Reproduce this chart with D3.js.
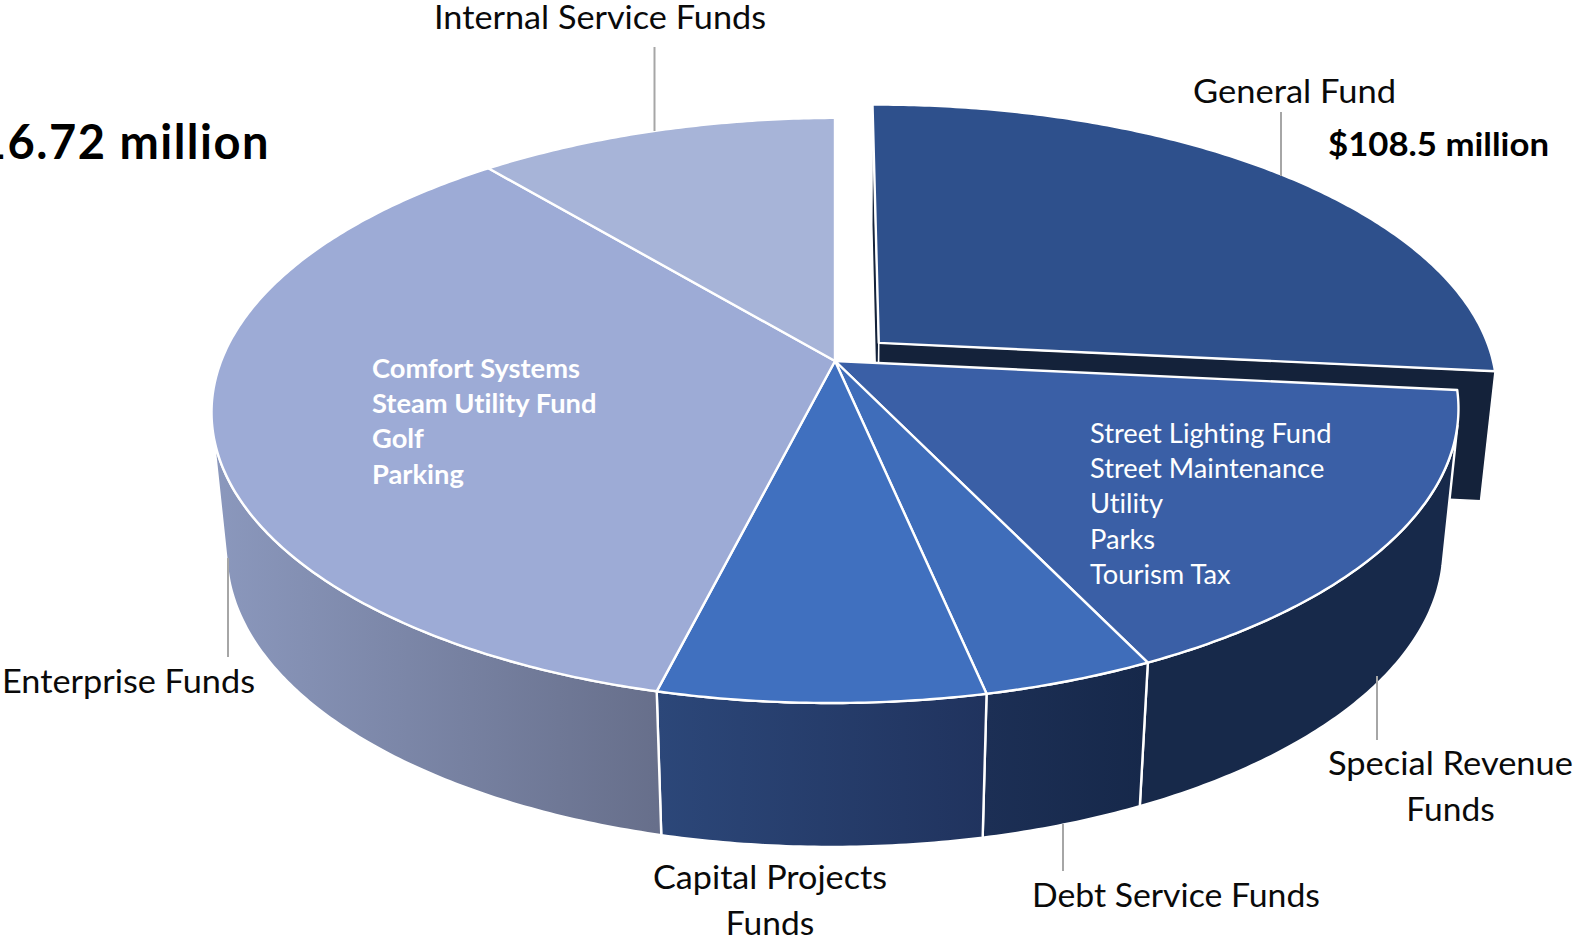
<!DOCTYPE html>
<html><head><meta charset="utf-8">
<style>html,body{margin:0;padding:0;background:#fff;overflow:hidden}svg{display:block}text{font-family:Lato,"Noto Sans",sans-serif;font-variant-ligatures:none}</style>
<script src="https://cdn.jsdelivr.net/npm/d3@7"></script>
</head><body><div id="chart"></div>
<script>
// ---- data ----
const categories = ["General Fund","Special Revenue Funds","Debt Service Funds","Capital Projects Funds","Enterprise Funds","Internal Service Funds"];
const shares = [26.7, 16.2, 3.8, 7.2, 35.1, 11.0];
const exploded = ["General Fund"];
const totalLabel = "$416.72 million";
const generalFundLabel = "$108.5 million";
const enterpriseList = ["Comfort Systems","Steam Utility Fund","Golf","Parking"];
const specialRevenueList = ["Street Lighting Fund","Street Maintenance","Utility","Parks","Tourism Tax"];

// ---- styling ----
const topColors = {"General Fund":"#2e508c","Special Revenue Funds":"#3a5fa6","Debt Service Funds":"#3f6dba","Capital Projects Funds":"#4070bf","Enterprise Funds":"#9dabd6","Internal Service Funds":"#a7b4d8"};
const wallStops = {"Special Revenue Funds":["#17294a","#17294a"],"Debt Service Funds":["#1c2f55","#16284a"],"Capital Projects Funds":["#2c4779","#20335e"],"Enterprise Funds":["#8b98bd","#676f8b"]};
const W=1575,H=938, cx=835, cy=361, A=284.2, B=0.169, C=614.5, SHEAR=0.003;
const VPY=6270, T0=0.0235, TK=0.1, EXU=0.072, EXV=-0.064, EXDEPTH=0.93;
const TAN_R=103*Math.PI/180, TAN_L=257*Math.PI/180;

const svg=d3.select("#chart").append("svg").attr("width",W).attr("height",H);
const defs=svg.append("defs");
const xScale=d3.scaleLinear().domain([-1,1]).range([cx-C,cx+C]);

function topPt(u,v){const w=1-B*v;const dx=(xScale(u)-cx)/w;return [cx+dx, cy+A*v/w-SHEAR*dx];}
function botPt(u,v,k=1){const p=topPt(u,v);const t=k*T0*(1+TK*v);return [p[0]+t*(cx-p[0]),p[1]+t*(VPY-p[1])];}
const rimUV=(th,o)=>[Math.sin(th)+o[0],-Math.cos(th)+o[1]];
const line=d3.line();
const sample=(a,b)=>{const n=Math.max(2,Math.ceil(Math.abs(b-a)/0.01));return d3.range(n+1).map(i=>a+(b-a)*i/n);};

const arcs=d3.pie().sort(null).value(d=>d.v).startAngle(0).endAngle(2*Math.PI)(categories.map((n,i)=>({n,v:shares[i]})));

categories.forEach(n=>{ if(!wallStops[n])return;
  const g=defs.append("linearGradient").attr("id","w"+categories.indexOf(n)).attr("gradientUnits","userSpaceOnUse");
  const a=arcs[categories.indexOf(n)];
  const pa=topPt(...rimUV(Math.max(a.startAngle,TAN_R),[0,0])), pb=topPt(...rimUV(Math.min(a.endAngle,TAN_L),[0,0]));
  g.attr("x1",Math.max(pa[0],pb[0])).attr("x2",Math.min(pa[0],pb[0])).attr("y1",0).attr("y2",0);
  g.append("stop").attr("offset",0).attr("stop-color",wallStops[n][1]);
  g.append("stop").attr("offset",1).attr("stop-color",wallStops[n][0]);
});

const WS="#ffffff", SW=2.4;
// exploded slice: its cut faces, then its top
arcs.filter(a=>exploded.includes(a.data.n)).forEach(a=>{
  const o=[EXU,EXV];
  const ap=topPt(o[0],o[1]), apB=botPt(o[0],o[1],EXDEPTH);
  [a.startAngle,a.endAngle].forEach(th=>{
    const uv=rimUV(th,o);
    svg.append("path").attr("d",line([ap,topPt(...uv),botPt(...uv,EXDEPTH),apB])+"Z").attr("fill","#14223a").attr("stroke",WS).attr("stroke-width",1.5).attr("stroke-linejoin","round");
  });
  const pts=[ap,...sample(a.startAngle,a.endAngle).map(th=>topPt(...rimUV(th,o)))];
  svg.append("path").attr("d",line(pts)+"Z").attr("fill",topColors[a.data.n]).attr("stroke",WS).attr("stroke-width",SW).attr("stroke-linejoin","round");
});
// outer walls of the slices in place
arcs.filter(a=>!exploded.includes(a.data.n)).forEach(a=>{
  const s=Math.max(a.startAngle,TAN_R), e=Math.min(a.endAngle,TAN_L);
  if(!(e>s)||!wallStops[a.data.n])return;
  const th=sample(s,e), o=[0,0];
  const pts=[...th.map(t=>topPt(...rimUV(t,o))),...th.slice().reverse().map(t=>botPt(...rimUV(t,o)))];
  svg.append("path").attr("d",line(pts)+"Z").attr("fill","url(#w"+categories.indexOf(a.data.n)+")").attr("stroke",WS).attr("stroke-width",SW).attr("stroke-linejoin","round");
});
// tops of the slices in place
arcs.filter(a=>!exploded.includes(a.data.n)).forEach(a=>{
  const pts=[[cx,cy],...sample(a.startAngle,a.endAngle).map(t=>topPt(...rimUV(t,[0,0])))];
  svg.append("path").attr("d",line(pts)+"Z").attr("fill",topColors[a.data.n]).attr("stroke",WS).attr("stroke-width",SW).attr("stroke-linejoin","round");
});

// leader lines
const leaders=[[654.5,47,654.5,131],[1281,112,1281,176],[228,558,228,657],[1063,824,1063,871],[1377,676,1377,740]];
svg.selectAll("line.l").data(leaders).join("line").attr("class","l")
  .attr("x1",d=>d[0]).attr("y1",d=>d[1]).attr("x2",d=>d[2]).attr("y2",d=>d[3])
  .attr("stroke","#a6a6a6").attr("stroke-width",2);

// labels
const FS=33.5;
function label(txt,x,y,opt={}){
  const t=svg.append("text").attr("x",x).attr("y",y).text(txt)
    .attr("font-size",opt.size||FS).attr("fill",opt.fill||"#0a0a0a")
    .attr("font-weight",opt.bold?700:400).attr("text-anchor",opt.anchor||"start");
  if(opt.len)t.attr("textLength",opt.len).attr("lengthAdjust","spacingAndGlyphs");
  if(opt.ls)t.attr("letter-spacing",opt.ls);
  return t;
}
label(categories[5],434,29,{len:332});
label(categories[0],1193,103,{len:203});
label(categories[4],2,693,{len:253});
label("Capital Projects",653,889,{len:234});
label("Funds",770,935,{anchor:"middle"});
label(categories[2],1032,907,{len:288});
label("Special Revenue",1328,775,{len:245});
label("Funds",1450.5,821,{anchor:"middle"});
label(totalLabel,270,158.5,{size:47,bold:true,anchor:"end",fill:"#000",ls:1.5});
label(generalFundLabel,1328,156,{size:33,bold:true,len:221,fill:"#000"});

enterpriseList.forEach((s,i)=>label(s,372,378+i*35.2,{size:27.3,bold:true,fill:"#fff"}));
specialRevenueList.forEach((s,i)=>label(s,1090,443+i*35.2,{size:27.3,fill:"#fff"}));
</script></body></html>
